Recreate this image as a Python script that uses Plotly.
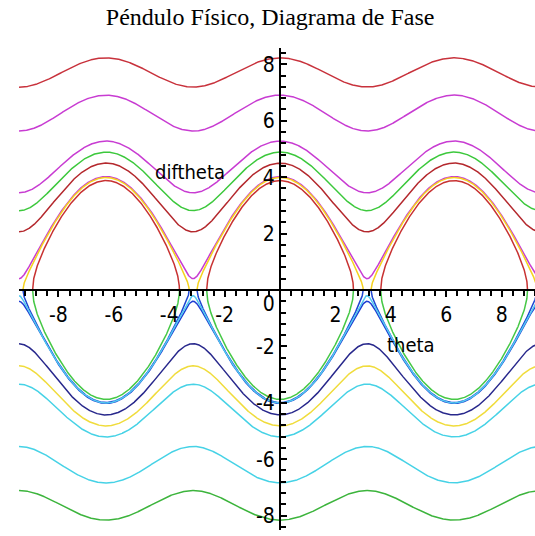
import numpy as np
import plotly.graph_objects as go

# Physical pendulum  theta'' = -K sin(theta); phase curves conserve
# E = diftheta^2/2 - K cos(theta)
K = 4.0
THETA_MIN, THETA_MAX = -3 * np.pi, 3 * np.pi

# Rotating orbits: diftheta value at theta = 0 (sign gives the direction)
rot_levels = [8.23, 6.91, 5.28, 4.89, 4.50, 4.02,
              -4.02, -4.005, -4.43, -4.82, -5.21, -6.84, -8.16]
rot_colors = ["#c8323c", "#c83cd2", "#c83cd2", "#3cc83c", "#b4282d", "#c83cd2",
              "#1e3cd2", "#50c8f0", "#28288c", "#f0dc3c", "#46d2e6", "#46d2e6", "#3cb43c"]

# Librating orbits: amplitude (rad) about the stable points, and which half is drawn
lib_amplitudes = [3.00, 2.65, 2.65, 3.00]
lib_halves = [1, 1, -1, -1]
lib_colors = ["#f5d21e", "#c83232", "#46c846", "#1e46d2"]
lib_centers = [-2 * np.pi, 0.0, 2 * np.pi]

x_ticks = [-8, -6, -4, -2, 2, 4, 6, 8]
y_ticks = [-8, -6, -4, -2, 0, 2, 4, 6, 8]
y_ticktext = ["-8", "-6", "-4", "-2", "\u00a0<br>0", "2", "4", "6", "8"]

fig = go.Figure()

th = np.linspace(THETA_MIN, THETA_MAX, 3000)


def add_rotating(level, color):
    sq = level ** 2 - 2 * K * (1 - np.cos(th))
    y = np.sign(level) * np.sqrt(np.clip(sq, 0, None))
    fig.add_trace(go.Scatter(x=th, y=y, mode="lines",
                             line=dict(color=color, width=1.5),
                             hoverinfo="skip", showlegend=False))


def add_librating(amp, half, color):
    xs, ys = [], []
    for c in lib_centers:
        u = np.linspace(-amp, amp, 800)
        y = half * np.sqrt(np.clip(2 * K * (np.cos(u) - np.cos(amp)), 0, None))
        xs += list(c + u) + [None]
        ys += list(y) + [None]
    fig.add_trace(go.Scatter(x=xs, y=ys, mode="lines",
                             line=dict(color=color, width=1.5),
                             hoverinfo="skip", showlegend=False))


for lvl, col in zip(rot_levels[:6], rot_colors[:6]):
    add_rotating(lvl, col)
for amp, h, col in zip(lib_amplitudes[:2], lib_halves[:2], lib_colors[:2]):
    add_librating(amp, h, col)
for amp, h, col in zip(lib_amplitudes[2:], lib_halves[2:], lib_colors[2:]):
    add_librating(amp, h, col)
for lvl, col in zip(rot_levels[6:], rot_colors[6:]):
    add_rotating(lvl, col)

W, H = 535, 536
ml, mr, mt, mb = 19, 0, 48, 6
x_range = [THETA_MIN, THETA_MIN + (W - ml - mr) / 27.7]
y_range = [-8.51, 8.58]

x0_pos = (0 - x_range[0]) / (x_range[1] - x_range[0])
y0_pos = (0 - y_range[0]) / (y_range[1] - y_range[0])

tick_font = dict(family="DejaVu Sans Condensed, Liberation Sans Narrow, Arial Narrow, sans-serif",
                 size=21, color="black")
label_font = dict(family="DejaVu Sans Condensed, Liberation Sans Narrow, Arial Narrow, sans-serif",
                  size=20, color="black")

fig.add_annotation(x=-3.25, y=4.18, text="diftheta", showarrow=False,
                   font=label_font, xanchor="center", yanchor="middle")
fig.add_annotation(x=4.73, y=-1.95, text="theta", showarrow=False,
                   font=label_font, xanchor="center", yanchor="middle")

fig.update_layout(
    width=W, height=H,
    margin=dict(l=ml, r=mr, t=mt, b=mb),
    paper_bgcolor="white", plot_bgcolor="white",
    title=dict(text="Péndulo Físico, Diagrama de Fase",
               font=dict(family="Liberation Serif, serif", size=24, color="black"),
               x=0.505, xanchor="center", y=1 - 17 / H, yanchor="middle", yref="container"),
    xaxis=dict(range=x_range, anchor="free", position=y0_pos,
               showgrid=False, zeroline=False, showline=True, linecolor="black", linewidth=2,
               tickmode="array", tickvals=x_ticks, ticktext=[str(v) for v in x_ticks],
               ticks="outside", ticklen=6, tickwidth=2, tickcolor="black",
               tickfont=tick_font,
               minor=dict(tickmode="linear", tick0=0, dtick=0.4, ticks="outside",
                          ticklen=5, tickwidth=2, tickcolor="black")),
    yaxis=dict(range=y_range, anchor="free", position=x0_pos,
               showgrid=False, zeroline=False, showline=True, linecolor="black", linewidth=2,
               tickmode="array", tickvals=y_ticks, ticktext=y_ticktext,
               ticks="inside", ticklen=6, tickwidth=2, tickcolor="black",
               tickfont=tick_font,
               minor=dict(tickmode="linear", tick0=0, dtick=0.4, ticks="inside",
                          ticklen=5, tickwidth=2, tickcolor="black")),
)

fig.write_html("out.html")
